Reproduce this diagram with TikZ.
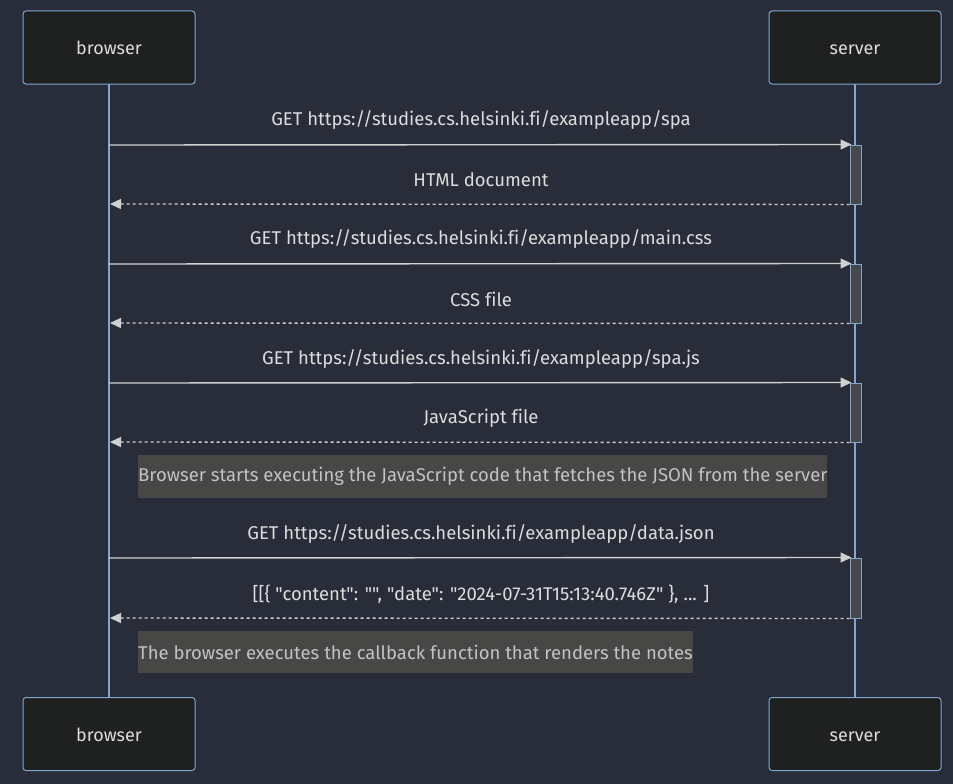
\documentclass[tikz,border=0pt]{standalone}
\usepackage{fontspec}
\newfontfamily\uifont{Fira Sans}[Ligatures=NoCommon]
\usetikzlibrary{arrows.meta}
\definecolor{bgc}{HTML}{282D39}
\definecolor{actfill}{HTML}{1F2020}
\definecolor{lineblue}{HTML}{81A6D1}
\definecolor{txt}{HTML}{DCDCDC}
\definecolor{msgline}{HTML}{D0D0D0}
\definecolor{notefill}{HTML}{474846}
\definecolor{notetxt}{HTML}{C2C2C2}
\definecolor{actvfill}{HTML}{474949}
\tikzset{
  actor/.style={draw=lineblue, fill=actfill, rounded corners=3pt, line width=1pt,
    minimum width=172pt, minimum height=73pt, inner sep=0pt, text=txt,
    text height=14pt, text depth=0pt,
    font=\uifont\fontsize{18}{21}\selectfont},
  lifeline/.style={draw=lineblue, line width=1.6pt},
  actv/.style={draw=lineblue, fill=actvfill, line width=1pt, minimum width=11pt, inner sep=0pt},
  msg/.style={draw=msgline, line width=1.4pt, -{Triangle[length=11pt,width=10pt]}},
  reply/.style={msg, dash pattern=on 3pt off 3pt},
  msglabel/.style={text=txt, font=\uifont\fontsize{18.5}{21}\selectfont, inner sep=0pt},
  note/.style={fill=notefill, text=notetxt, font=\uifont\fontsize{18.5}{21}\selectfont, inner sep=0pt, anchor=west}
}
\begin{document}
\begin{tikzpicture}[x=1pt, y=-1pt]
  \fill[bgc] (0,0) rectangle (953,784);
  \useasboundingbox (0,0) rectangle (953,784);

  % lifelines first so the boxes sit on top
  \coordinate (blt) at (109,84);
  \coordinate (blb) at (109,697);
  \coordinate (slt) at (855,84);
  \coordinate (slb) at (855,697);
  \draw[lifeline] (blt) -- (blb);
  \draw[lifeline] (slt) -- (slb);

  % participants
  \node[actor] (bt) at (109,47.5) {browser};
  \node[actor] (st) at (855,47.5) {server};
  \node[actor] (bb) at (109,734) {browser};
  \node[actor] (sb) at (855,734) {server};

  % activation bars on the server lifeline
  \node[actv, minimum height=59pt] (a1) at (855.5,174.5) {};
  \node[actv, minimum height=59pt] (a2) at (855.5,293.5) {};
  \node[actv, minimum height=59pt] (a3) at (855.5,412.5) {};
  \node[actv, minimum height=60pt] (a4) at (855.5,588) {};

  % request / response end points
  \coordinate (q1) at (109,145);  \coordinate (r1) at (110,204);
  \coordinate (q2) at (109,264);  \coordinate (r2) at (110,323);
  \coordinate (q3) at (109,383);  \coordinate (r3) at (110,442);
  \coordinate (q4) at (109,558);  \coordinate (r4) at (110,618);

  % GET spa
  \draw[msg] (q1) -- ([xshift=2pt]a1.north west);
  \node[msglabel] (m1) at (481,120) {GET https://studies.cs.helsinki.fi/exampleapp/spa};
  \draw[reply] (a1.south west) -- (r1);
  \node[msglabel] (m2) at (481,180) {HTML document};

  % GET main.css
  \draw[msg] (q2) -- ([xshift=2pt]a2.north west);
  \node[msglabel] (m3) at (481,239) {GET https://studies.cs.helsinki.fi/exampleapp/main.css};
  \draw[reply] (a2.south west) -- (r2);
  \node[msglabel] (m4) at (481,299) {CSS file};

  % GET spa.js
  \draw[msg] (q3) -- ([xshift=2pt]a3.north west);
  \node[msglabel] (m5) at (481,359) {GET https://studies.cs.helsinki.fi/exampleapp/spa.js};
  \draw[reply] (a3.south west) -- (r3);
  \node[msglabel] (m6) at (481,418) {JavaScript file};

  % note
  \node[note, minimum width=689pt, minimum height=43pt] (n1) at (138,476.5)
    {Browser starts executing the JavaScript code that fetches the JSON from the server};

  % GET data.json
  \draw[msg] (q4) -- ([xshift=2pt]a4.north west);
  \node[msglabel] (m7) at (481,534) {GET https://studies.cs.helsinki.fi/exampleapp/data.json};
  \draw[reply] (a4.south west) -- (r4);
  \node[msglabel] (m8) at (481,594) {[[\{ "content": "", "date": "2024-07-31T15:13:40.746Z" \}, ... ]};

  % note
  \node[note, minimum width=552pt, minimum height=42pt] (n2) at (138,652)
    {The browser executes the callback function that renders the notes};
\end{tikzpicture}
\end{document}
